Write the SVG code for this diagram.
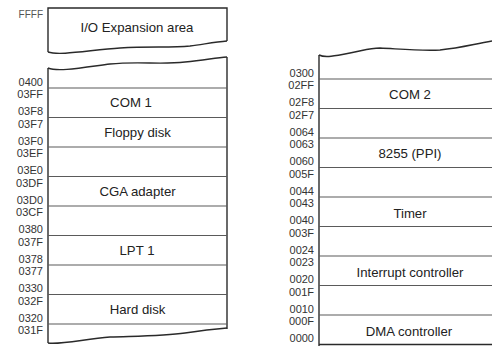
<svg xmlns="http://www.w3.org/2000/svg" width="492" height="346" viewBox="0 0 492 346">
<style>
.edge{fill:none;stroke:#2a2a2a;stroke-width:1.4}
.div{fill:none;stroke:#5a5a5a;stroke-width:1.2}
.addr{font-family:"Liberation Sans",Arial,sans-serif;font-size:11px;fill:#333;text-anchor:end}
.lbl{font-family:"Liberation Sans",Arial,sans-serif;font-size:13.2px;fill:#222;text-anchor:middle}
</style>
<rect width="492" height="346" fill="#fff"/>
<g id="left-column">
  <g id="io-expansion">
    <path class="edge" d="M48,52 L48,8 L227,8 L227,41"/>
    <path class="edge" d="M48,52 C60,56 90,50 120,48 C150,46 170,48 190,46 C205,44 215,42 227,41"/>
    <text class="lbl" x="137" y="32">I/O Expansion area</text>
    <text class="addr" x="43" y="18" style="font-size:10px;fill:#555">FFFF</text>
  </g>
  <g id="left-frame">
    <path class="edge" d="M48,68 C58,72 80,68 110,64 C140,61 160,65 185,62 C205,60 215,58 227,57"/>
    <path class="edge" d="M48,68 L48,343"/>
    <path class="edge" d="M227,57 L227,329"/>
    <path class="edge" d="M48,343 C60,345 85,339 110,337 C140,336 165,336 185,333 C205,330 215,329 227,328"/>
  </g>
  <g id="left-dividers">
    <line class="div" x1="48" y1="88" x2="227" y2="88"/>
    <line class="div" x1="48" y1="117.5" x2="227" y2="117.5"/>
    <line class="div" x1="48" y1="147" x2="227" y2="147"/>
    <line class="div" x1="48" y1="176.5" x2="227" y2="176.5"/>
    <line class="div" x1="48" y1="206" x2="227" y2="206"/>
    <line class="div" x1="48" y1="235.5" x2="227" y2="235.5"/>
    <line class="div" x1="48" y1="265" x2="227" y2="265"/>
    <line class="div" x1="48" y1="294.5" x2="227" y2="294.5"/>
    <line class="div" x1="48" y1="324" x2="227" y2="324"/>
  </g>
  <g id="com1"><text class="lbl" x="131" y="107">COM 1</text></g>
  <g id="floppy"><text class="lbl" x="137.5" y="137">Floppy disk</text></g>
  <g id="cga"><text class="lbl" x="137.5" y="196">CGA adapter</text></g>
  <g id="lpt1"><text class="lbl" x="137" y="255">LPT 1</text></g>
  <g id="harddisk"><text class="lbl" x="137.5" y="314">Hard disk</text></g>
  <g id="left-addresses">
    <text class="addr" x="43" y="85.5">0400</text>
    <text class="addr" x="43" y="98">03FF</text>
    <text class="addr" x="43" y="115">03F8</text>
    <text class="addr" x="43" y="127.5">03F7</text>
    <text class="addr" x="43" y="144.5">03F0</text>
    <text class="addr" x="43" y="157">03EF</text>
    <text class="addr" x="43" y="174">03E0</text>
    <text class="addr" x="43" y="186.5">03DF</text>
    <text class="addr" x="43" y="203.5">03D0</text>
    <text class="addr" x="43" y="216">03CF</text>
    <text class="addr" x="43" y="233">0380</text>
    <text class="addr" x="43" y="245.5">037F</text>
    <text class="addr" x="43" y="262.5">0378</text>
    <text class="addr" x="43" y="275">0377</text>
    <text class="addr" x="43" y="292">0330</text>
    <text class="addr" x="43" y="304.5">032F</text>
    <text class="addr" x="43" y="321.5">0320</text>
    <text class="addr" x="43" y="334">031F</text>
  </g>
</g>
<g id="right-column">
  <g id="right-frame">
    <path class="edge" d="M319,55 C325,58 335,56 350,53 C365,50 370,48 380,48 C400,49 420,51 440,50 C460,48 470,45 492,41"/>
    <path class="edge" d="M319,55 L319,346"/>
  </g>
  <g id="right-dividers">
    <line class="div" x1="319" y1="79" x2="492" y2="79"/>
    <line class="div" x1="319" y1="108.5" x2="492" y2="108.5"/>
    <line class="div" x1="319" y1="138" x2="492" y2="138"/>
    <line class="div" x1="319" y1="167.5" x2="492" y2="167.5"/>
    <line class="div" x1="319" y1="197" x2="492" y2="197"/>
    <line class="div" x1="319" y1="226.5" x2="492" y2="226.5"/>
    <line class="div" x1="319" y1="256" x2="492" y2="256"/>
    <line class="div" x1="319" y1="285.5" x2="492" y2="285.5"/>
    <line class="div" x1="319" y1="315" x2="492" y2="315"/>
    <line class="edge" x1="319" y1="344.5" x2="492" y2="344.5"/>
  </g>
  <g id="com2"><text class="lbl" x="410" y="99">COM 2</text></g>
  <g id="ppi"><text class="lbl" x="410" y="158">8255 (PPI)</text></g>
  <g id="timer"><text class="lbl" x="410" y="218">Timer</text></g>
  <g id="pic"><text class="lbl" x="410" y="277">Interrupt controller</text></g>
  <g id="dma"><text class="lbl" x="409" y="336">DMA controller</text></g>
  <g id="right-addresses">
    <text class="addr" x="314" y="76.5">0300</text>
    <text class="addr" x="314" y="89">02FF</text>
    <text class="addr" x="314" y="106">02F8</text>
    <text class="addr" x="314" y="118.5">02F7</text>
    <text class="addr" x="314" y="135.5">0064</text>
    <text class="addr" x="314" y="148">0063</text>
    <text class="addr" x="314" y="165">0060</text>
    <text class="addr" x="314" y="177.5">005F</text>
    <text class="addr" x="314" y="194.5">0044</text>
    <text class="addr" x="314" y="207">0043</text>
    <text class="addr" x="314" y="224">0040</text>
    <text class="addr" x="314" y="236.5">003F</text>
    <text class="addr" x="314" y="253.5">0024</text>
    <text class="addr" x="314" y="266">0023</text>
    <text class="addr" x="314" y="283">0020</text>
    <text class="addr" x="314" y="295.5">001F</text>
    <text class="addr" x="314" y="312.5">0010</text>
    <text class="addr" x="314" y="325">000F</text>
    <text class="addr" x="314" y="342">0000</text>
  </g>
</g>
</svg>
